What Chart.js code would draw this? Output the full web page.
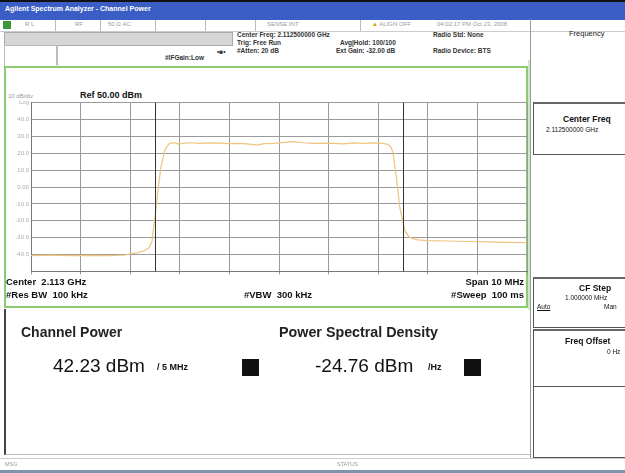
<!DOCTYPE html>
<html lang="en">
<head>
    <meta charset="UTF-8">
    <title>Channel Power</title>
    <script src="https://cdn.jsdelivr.net/npm/chart.js"></script>
    <style>
        body {
            margin: 0;
            width: 625px;
            height: 473px;
            position: relative;
            overflow: hidden;
            background: #fff;
            font-family: "Liberation Sans", Arial, sans-serif;
            color: #111;
        }
        .abs { position: absolute; white-space: nowrap; }
        .tiny { font-size: 6.5px; font-weight: bold; color: #333; }
        .mid { font-size: 9.5px; font-weight: bold; }
        .box { position: absolute; border: 1px solid #555; background: #fff; }
        .sep { position: absolute; top: 20px; width: 1px; height: 11px; background: #bbb; }
        #topbar { left: 0; top: 0; width: 625px; height: 18px; background: #3b5ec6; border-top: 2px solid #111; }
        #frame { left: 4px; top: 66px; width: 520px; height: 238px; border: 2px solid #8ccb72; }
        #plot { position: absolute; left: 6px; top: 97px; }
    </style>
</head>
<body>
    <div id="topbar" class="abs"></div>
    <div class="abs" style="left:5px;top:5px;font-size:7px;color:#fff;font-weight:bold;">Agilent Spectrum Analyzer - Channel Power</div>

    <!-- status row -->
    <div class="abs" style="left:0;top:20px;width:625px;height:11px;border-bottom:1px solid #ccc;"></div>
    <div class="abs" style="left:3px;top:21px;width:8px;height:8px;background:#3a9a3a;"></div>
    <div class="sep" style="left:55px"></div>
    <div class="sep" style="left:100px"></div>
    <div class="sep" style="left:155px"></div>
    <div class="sep" style="left:205px"></div>
    <div class="sep" style="left:255px"></div>
    <div class="sep" style="left:360px"></div>
    <div class="abs" style="left:25px;top:21px;font-size:6px;color:#999;">R L</div>
    <div class="abs" style="left:75px;top:21px;font-size:6px;color:#999;">RF</div>
    <div class="abs" style="left:108px;top:21px;font-size:6px;color:#999;">50 &Omega;  AC</div>
    <div class="abs" style="left:267px;top:21px;font-size:6px;color:#999;">SENSE:INT</div>
    <div class="abs" style="left:372px;top:21px;font-size:6px;color:#999;"><span style="color:#c9a400">&#9650;</span> ALIGN OFF</div>
    <div class="abs" style="left:437px;top:21px;font-size:6px;color:#999;">04:02:17 PM Oct 23, 2008</div>

    <!-- header -->
    <div class="abs" style="left:4px;top:32px;width:227px;height:12px;background:#d6d6d6;border:1px solid #aaa;"></div>
    <div class="abs" style="left:4px;top:45px;width:52px;height:20px;border:1px solid #bbb;"></div>
    <div class="abs" style="left:56px;top:45px;width:175px;height:20px;border-left:1px solid #bbb;"></div>
    <div class="abs tiny" style="left:217px;top:48px;">&#8226;&#9632;&#8226;</div>
    <div class="abs tiny" style="left:165px;top:54px;">#IFGain:Low</div>
    <div class="abs tiny" style="left:237px;top:31px;">Center Freq: 2.112500000 GHz</div>
    <div class="abs tiny" style="left:237px;top:39px;">Trig: Free Run</div>
    <div class="abs tiny" style="left:237px;top:47px;">#Atten: 20 dB</div>
    <div class="abs tiny" style="left:340px;top:39px;">Avg|Hold: 100/100</div>
    <div class="abs tiny" style="left:336px;top:47px;">Ext Gain: -32.00 dB</div>
    <div class="abs tiny" style="left:433px;top:31px;">Radio Std: None</div>
    <div class="abs tiny" style="left:433px;top:47px;">Radio Device: BTS</div>

    <!-- graticule frame -->
    <div id="frame" class="abs"></div>
    <div class="abs" style="left:8px;top:93px;font-size:6px;color:#999;">10 dB/div</div>
    <div class="abs" style="left:80px;top:90px;font-size:9px;font-weight:bold;">Ref 50.00 dBm</div>
    <canvas id="plot" width="522" height="180"></canvas>
    <div class="abs mid" style="left:6px;top:276px;">Center&nbsp; 2.113 GHz</div>
    <div class="abs mid" style="left:6px;top:289px;">#Res BW&nbsp; 100 kHz</div>
    <div class="abs mid" style="left:244px;top:289px;">#VBW&nbsp; 300 kHz</div>
    <div class="abs mid" style="right:101px;top:276px;">Span 10 MHz</div>
    <div class="abs mid" style="right:101px;top:289px;">#Sweep&nbsp; 100 ms</div>

    <!-- results panel -->
    <div class="abs" style="left:4px;top:309px;width:525px;height:145px;border-left:2px solid #444;border-bottom:1px solid #bbb;"></div>
    <div class="abs" style="left:21px;top:324px;font-size:14px;font-weight:bold;color:#222;">Channel Power</div>
    <div class="abs" style="left:279px;top:324px;font-size:14.3px;font-weight:bold;color:#222;">Power Spectral Density</div>
    <div class="abs" style="left:53px;top:355px;font-size:19px;color:#111;">42.23 dBm</div>
    <div class="abs" style="left:157px;top:362px;font-size:9px;font-weight:bold;">/ 5 MHz</div>
    <div class="abs" style="left:242px;top:359px;width:17px;height:17px;background:#111;"></div>
    <div class="abs" style="left:315px;top:355px;font-size:19px;color:#111;">-24.76 dBm</div>
    <div class="abs" style="left:428px;top:362px;font-size:9px;font-weight:bold;">/Hz</div>
    <div class="abs" style="left:464px;top:359px;width:17px;height:17px;background:#111;"></div>

    <!-- softkey panel -->
    <div class="abs" style="left:530px;top:19px;width:1px;height:440px;background:#999;"></div>
    <div class="abs" style="left:528px;top:60px;width:2px;height:250px;background:#cfe9c4;"></div>
    <div class="abs" style="left:569px;top:29px;font-size:7.5px;color:#222;">Frequency</div>
    <div class="box" style="left:533px;top:102px;width:100px;height:50px;border-top:2px solid #666;"></div>
    <div class="abs" style="left:563px;top:114px;font-size:8.5px;font-weight:bold;">Center Freq</div>
    <div class="abs" style="left:546px;top:126px;font-size:6.5px;">2.112500000 GHz</div>
    <div class="box" style="left:533px;top:277px;width:100px;height:48px;border-top:2px solid #666;"></div>
    <div class="abs" style="left:579px;top:283px;font-size:8.5px;font-weight:bold;">CF Step</div>
    <div class="abs" style="left:565px;top:294px;font-size:6.5px;">1.000000 MHz</div>
    <div class="abs" style="left:537px;top:303px;font-size:6.5px;text-decoration:underline;">Auto</div>
    <div class="abs" style="left:604px;top:303px;font-size:6.5px;">Man</div>
    <div class="box" style="left:533px;top:329px;width:100px;height:55px;border-top:2px solid #666;"></div>
    <div class="abs" style="left:565px;top:336px;font-size:8.5px;font-weight:bold;">Freq Offset</div>
    <div class="abs" style="left:607px;top:348px;font-size:6.5px;">0 Hz</div>
    <div class="box" style="left:533px;top:386px;width:100px;height:70px;"></div>

    <!-- status bar -->
    <div class="abs" style="left:0;top:458px;width:625px;height:12px;border-top:1px solid #ccc;"></div>
    <div class="abs" style="left:5px;top:461px;font-size:5.5px;color:#999;">MSG</div>
    <div class="abs" style="left:337px;top:461px;font-size:5.5px;color:#999;">STATUS</div>
    <div class="abs" style="left:0;top:470px;width:625px;height:3px;background:#7f93ad;"></div>

    <script>
// frequency offset from 2.1125 GHz centre, MHz
const freqMHz = [
    -5.0, -4.6, -4.2, -3.8, -3.4, -3.1, -3.0, -2.85, -2.72, -2.62, -2.56, -2.50, -2.44, -2.38, -2.30,
    -2.22, -2.16, -2.08, -2.02, -1.94, -1.80, -1.60, -1.40, -1.20, -1.00, -0.80, -0.60, -0.44, -0.30,
    -0.10, 0.10, 0.28, 0.50, 0.70, 0.90, 1.10, 1.30, 1.50, 1.70, 1.90, 2.10, 2.20, 2.26, 2.30, 2.37,
    2.44, 2.54, 2.62, 2.70, 2.80, 3.0, 3.4, 3.8, 4.2, 4.6, 5.0
];
const powerDbm = [
    -40.6, -40.4, -40.7, -40.5, -40.6, -40.3, -39.6, -38.9, -37.8, -36.0, -32.0, -18.0, -2.0, 12.0, 22.0,
    25.5, 26.3, 26.0, 25.3, 25.9, 26.2, 25.8, 26.1, 26.0, 25.7, 25.9, 25.4, 24.8, 25.7,
    25.9, 26.4, 26.9, 26.2, 25.8, 26.0, 25.8, 25.6, 26.1, 25.9, 26.1, 25.8, 25.2, 23.5, 20.0, 5.0,
    -13.0, -26.0, -29.5, -30.6, -31.3, -31.8, -32.0, -32.3, -32.5, -32.8, -33.0
];
const yTicks = [50, 40, 30, 20, 10, 0, -10, -20, -30, -40, -50];
const yTickLabels = ['Log', '40.0', '30.0', '20.0', '10.0', '0.00', '-10.0', '-20.0', '-30.0', '-40.0', ''];
const channelEdges = [-2.5, 2.5];

const channelLines = {
    id: 'channelLines',
    afterDatasetsDraw(chart) {
        const { ctx, chartArea, scales } = chart;
        ctx.save();
        ctx.strokeStyle = '#333';
        ctx.lineWidth = 1;
        channelEdges.forEach(f => {
            const x = Math.round(scales.x.getPixelForValue(f)) + 0.5;
            ctx.beginPath();
            ctx.moveTo(x, chartArea.top);
            ctx.lineTo(x, chartArea.bottom);
            ctx.stroke();
        });
        ctx.restore();
    }
};

new Chart(document.getElementById('plot'), {
    type: 'line',
    data: {
        datasets: [{
            data: freqMHz.map((f, i) => ({ x: f, y: powerDbm[i] })),
            borderColor: '#efc47f',
            borderWidth: 1.2,
            pointRadius: 0,
            tension: 0
        }]
    },
    options: {
        responsive: false,
        animation: false,
        layout: { padding: { top: 5, right: 1, left: 0, bottom: 0 } },
        plugins: { legend: { display: false }, tooltip: { enabled: false } },
        scales: {
            x: {
                type: 'linear', min: -5, max: 5,
                ticks: { display: false, stepSize: 1 },
                grid: { color: '#9a9a9a', lineWidth: 1, drawTicks: true, tickLength: 3 },
                border: { color: '#777' },
                afterFit: s => { s.height = 4; }
            },
            y: {
                min: -50, max: 50,
                afterBuildTicks: s => { s.ticks = yTicks.map(v => ({ value: v })); },
                ticks: {
                    callback: v => yTickLabels[yTicks.indexOf(v)],
                    color: '#aaa',
                    font: { size: 6, family: 'Liberation Sans' },
                    padding: 2
                },
                grid: { color: '#9a9a9a', lineWidth: 1, drawTicks: false },
                border: { color: '#777' },
                afterFit: s => { s.width = 25; }
            }
        }
    },
    plugins: [channelLines]
});
    </script>
</body>
</html>
